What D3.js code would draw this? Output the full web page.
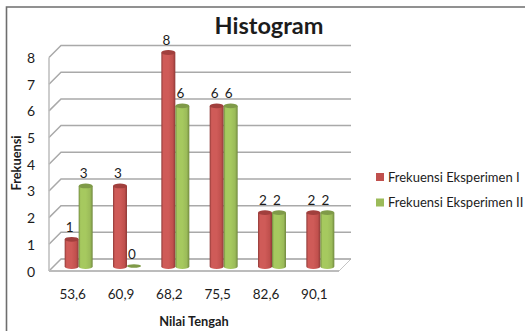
<!DOCTYPE html>
<html><head><meta charset="utf-8">
<script src="https://cdn.jsdelivr.net/npm/d3@7/dist/d3.min.js"></script>
<style>html,body{margin:0;padding:0;background:#fff;overflow:hidden}svg{display:block}text{font-family:Lato,"Open Sans",sans-serif;fill:#1c1c1c}</style>
</head><body><svg id="c" width="525" height="331"></svg>
<script>
const categories=["53,6","60,9","68,2","75,5","82,6","90,1"];
const series1=[1,3,8,6,2,2];
const series2=[3,0,6,6,2,2];
const seriesNames=["Frekuensi Eksperimen I","Frekuensi Eksperimen II"];
const yTicks=[0,1,2,3,4,5,6,7,8];
const title="Histogram",xTitle="Nilai Tengah",yTitle="Frekuensi";
const colors=[{l:"#c0504d",m:"#cf5b58",d:"#8f3a38",top:"#a13f3d"},{l:"#9bbb59",m:"#a6c95f",d:"#71893f",top:"#7f9a48"}];

const svg=d3.select("#c");
const defs=svg.append("defs");
colors.forEach((c,i)=>{
  const g=defs.append("linearGradient").attr("id","g"+i);
  [[0,c.d],[.14,c.m],[.5,c.m],[.82,c.l],[1,c.d]].forEach(s=>g.append("stop").attr("offset",s[0]).attr("stop-color",s[1]));
});
const dx=12,dy=-12;
const y=d3.scaleLinear().domain([0,8]).range([271,57.5]);
const x=d3.scaleBand().domain(categories).range([49,339]);
const barW=14;
const barBase=v=>y(v)-4.5;

// frame
svg.append("path").attr("d","M6.5,331V7H525").attr("fill","none").attr("stroke","#6e6e6e").attr("stroke-width",1.6);

// floor & walls
const wall="#a9a9a9";
svg.append("path").attr("d",`M49,${y(0)}L${49+dx},${y(0)+dy}H${339+dx}L339,${y(0)}Z`).attr("fill","#fff").attr("stroke","#c4c4c4").attr("stroke-width",1);
svg.append("g").selectAll("path").data(yTicks).join("path")
  .attr("d",d=>`M49,${y(d)}L${49+dx},${y(d)+dy}H${339+dx}`)
  .attr("fill","none").attr("stroke",wall).attr("stroke-width",1.5);
svg.append("line").attr("x1",49).attr("x2",49).attr("y1",y(8)).attr("y2",y(0)).attr("stroke","#bcbcbc").attr("stroke-width",1.5);
svg.append("line").attr("x1",49).attr("x2",339).attr("y1",y(0)).attr("y2",y(0)).attr("stroke","#bcbcbc").attr("stroke-width",1.8);

// y labels
svg.append("g").selectAll("text").data(yTicks).join("text")
  .attr("x",31).attr("y",d=>y(d)+5.5).attr("text-anchor","middle").attr("font-size",14).text(d=>d);
// x labels
svg.append("g").selectAll("text").data(categories).join("text")
  .attr("x",d=>x(d)+x.bandwidth()/2-0.5).attr("y",299).attr("text-anchor","middle").attr("font-size",13.5).text(d=>d);

// bars
[series1,series2].forEach((vals,s)=>{
  const g=svg.append("g");
  vals.forEach((v,i)=>{
    const cx=x(categories[i])+x.bandwidth()/2+5.5+(s===0?-barW/2:barW/2);
    const b=barBase(0), t=barBase(v)-0.5, rx=barW/2, ry=2.4;
    if(v>0){
      g.append("path").attr("d",`M${cx-rx},${t}V${b}A${rx},${ry} 0 0 0 ${cx+rx},${b}V${t}Z`).attr("fill",`url(#g${s})`);
    }
    g.append("ellipse").attr("cx",cx).attr("cy",t).attr("rx",rx).attr("ry",v>0?ry:1.8).attr("fill",colors[s].top);
    g.append("text").attr("x",cx-2).attr("y",t-7.5).attr("text-anchor","middle").attr("font-size",13.5).text(v);
  });
});

// titles
svg.append("text").attr("x",269).attr("y",33.5).attr("text-anchor","middle").attr("font-size",23.5).attr("font-weight",700).attr("fill","#000").text(title);
svg.append("text").attr("x",194).attr("y",325.5).attr("text-anchor","middle").attr("font-size",12.8).attr("font-weight",700).text(xTitle);
svg.append("text").attr("transform","translate(21,163) rotate(-90)").attr("text-anchor","middle").attr("font-size",12.8).attr("font-weight",700).text(yTitle);

// legend
seriesNames.forEach((n,i)=>{
  const ly=176.5+i*25.5;
  svg.append("rect").attr("x",376).attr("y",ly-3.5).attr("width",8).attr("height",8).attr("fill",colors[i].l);
  svg.append("text").attr("x",388).attr("y",ly+5).attr("font-size",13).text(n);
});
</script></body></html>
